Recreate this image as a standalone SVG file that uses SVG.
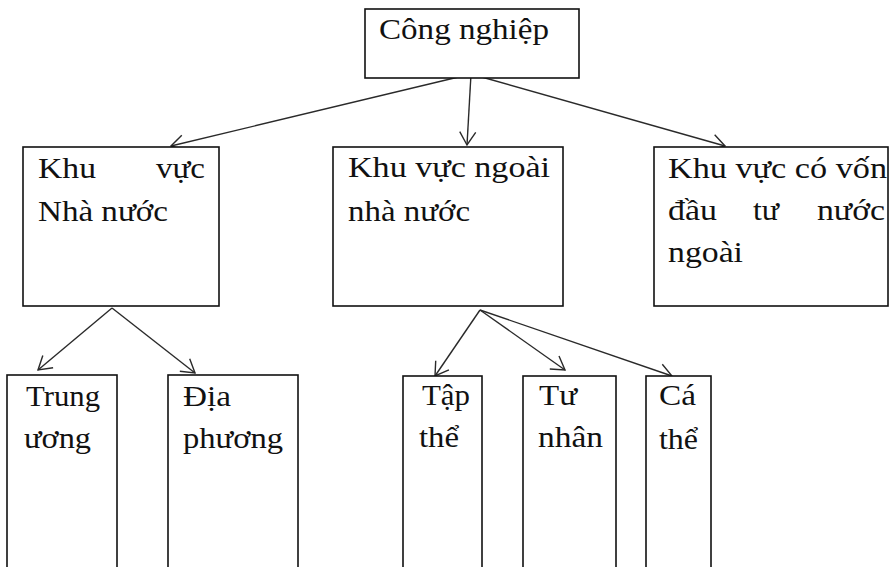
<svg xmlns="http://www.w3.org/2000/svg" width="890" height="567" viewBox="0 0 890 567">
<style>
.box{fill:#fff;stroke:#111;stroke-width:1.6}
.t{font-family:"Liberation Serif","Times New Roman",serif;font-size:30px;fill:#111}
.c{fill:none;stroke:#2a2a2a;stroke-width:1.4}
</style>
<defs>
<marker id="ah" viewBox="-16 -12 18 24" refX="0" refY="0" markerWidth="18" markerHeight="24" markerUnits="userSpaceOnUse" orient="auto" overflow="visible">
<path d="M-13,-8 L0,0 L-13,8" fill="none" stroke="#2a2a2a" stroke-width="1.4"/>
</marker>
</defs>
<rect width="890" height="567" fill="#fff"/>
<g id="connectors">
<line class="c" x1="471" y1="74" x2="171" y2="146" marker-end="url(#ah)"/>
<line class="c" x1="471" y1="74" x2="467" y2="145" marker-end="url(#ah)"/>
<line class="c" x1="471" y1="74" x2="725" y2="146" marker-end="url(#ah)"/>
<line class="c" x1="112" y1="308" x2="38" y2="370" marker-end="url(#ah)"/>
<line class="c" x1="112" y1="308" x2="195" y2="373" marker-end="url(#ah)"/>
<line class="c" x1="480" y1="310" x2="435" y2="376" marker-end="url(#ah)"/>
<line class="c" x1="480" y1="310" x2="565" y2="370" marker-end="url(#ah)"/>
<line class="c" x1="480" y1="310" x2="672" y2="376" marker-end="url(#ah)"/>
</g>
<g id="cong-nghiep">
<rect class="box" x="365" y="9" width="214" height="69"/>
<text class="t" x="379" y="39" textLength="170" lengthAdjust="spacingAndGlyphs">Công nghiệp</text>
</g>
<g id="khu-vuc-nha-nuoc">
<rect class="box" x="23" y="147" width="196" height="159"/>
<text class="t" x="38" y="178" textLength="58" lengthAdjust="spacingAndGlyphs">Khu</text>
<text class="t" x="156" y="178" textLength="49" lengthAdjust="spacingAndGlyphs">vực</text>
<text class="t" x="38" y="221" textLength="130" lengthAdjust="spacingAndGlyphs">Nhà nước</text>
</g>
<g id="khu-vuc-ngoai-nha-nuoc">
<rect class="box" x="333" y="147" width="230" height="159"/>
<text class="t" x="348" y="177" textLength="202" lengthAdjust="spacingAndGlyphs">Khu vực ngoài</text>
<text class="t" x="348" y="221" textLength="122" lengthAdjust="spacingAndGlyphs">nhà nước</text>
</g>
<g id="khu-vuc-von-nuoc-ngoai">
<rect class="box" x="654" y="147" width="234" height="159"/>
<text class="t" x="668" y="178" textLength="219" lengthAdjust="spacingAndGlyphs">Khu vực có vốn</text>
<text class="t" x="668" y="220" textLength="49" lengthAdjust="spacingAndGlyphs">đầu</text>
<text class="t" x="753" y="220" textLength="26" lengthAdjust="spacingAndGlyphs">tư</text>
<text class="t" x="817" y="220" textLength="68" lengthAdjust="spacingAndGlyphs">nước</text>
<text class="t" x="668" y="262" textLength="75" lengthAdjust="spacingAndGlyphs">ngoài</text>
</g>
<g id="trung-uong">
<rect class="box" x="7" y="375" width="110" height="210"/>
<text class="t" x="26" y="406" textLength="74" lengthAdjust="spacingAndGlyphs">Trung</text>
<text class="t" x="24" y="448" textLength="67" lengthAdjust="spacingAndGlyphs">ương</text>
</g>
<g id="dia-phuong">
<rect class="box" x="168" y="375" width="130" height="210"/>
<text class="t" x="183" y="406" textLength="48" lengthAdjust="spacingAndGlyphs">Địa</text>
<text class="t" x="183" y="448" textLength="100" lengthAdjust="spacingAndGlyphs">phương</text>
</g>
<g id="tap-the">
<rect class="box" x="403" y="376" width="79" height="210"/>
<text class="t" x="422" y="405" textLength="48" lengthAdjust="spacingAndGlyphs">Tập</text>
<text class="t" x="419" y="447" textLength="40" lengthAdjust="spacingAndGlyphs">thể</text>
</g>
<g id="tu-nhan">
<rect class="box" x="523" y="376" width="93" height="210"/>
<text class="t" x="539" y="405" textLength="38" lengthAdjust="spacingAndGlyphs">Tư</text>
<text class="t" x="538" y="447" textLength="65" lengthAdjust="spacingAndGlyphs">nhân</text>
</g>
<g id="ca-the">
<rect class="box" x="646" y="376" width="65" height="210"/>
<text class="t" x="659" y="405" textLength="37" lengthAdjust="spacingAndGlyphs">Cá</text>
<text class="t" x="659" y="449" textLength="39" lengthAdjust="spacingAndGlyphs">thể</text>
</g>
</svg>
